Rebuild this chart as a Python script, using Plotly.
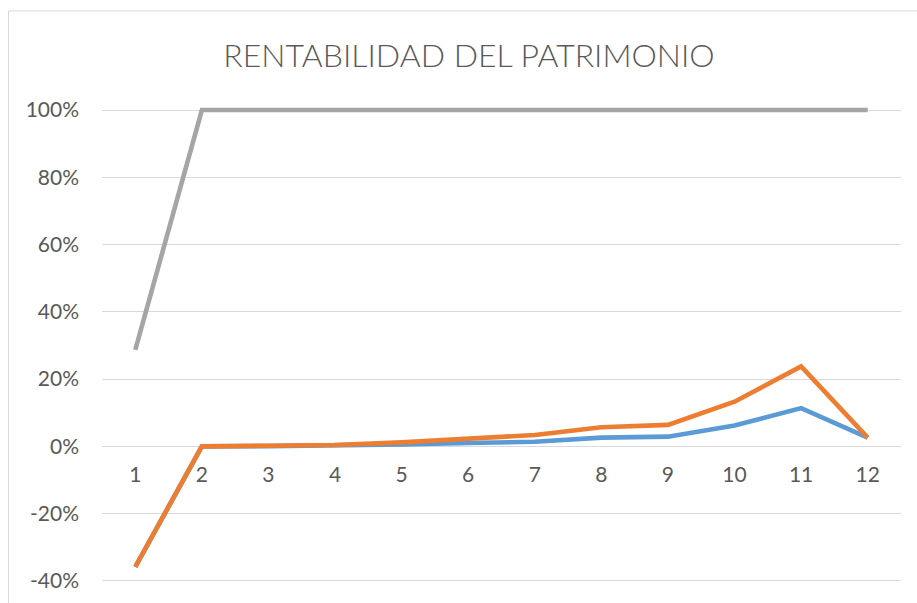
import plotly.graph_objects as go

# Periods on the category axis
periods = [str(i) for i in range(1, 13)]

# Return on equity series (fractions)
serie_azul = [-0.358, 0.0, 0.001, 0.002, 0.006, 0.010, 0.014, 0.026, 0.029, 0.062, 0.114, 0.026]
serie_naranja = [-0.358, 0.0, 0.002, 0.004, 0.012, 0.022, 0.034, 0.057, 0.064, 0.133, 0.238, 0.026]
serie_gris = [0.287, 1.0, 1.0, 1.0, 1.0, 1.0, 1.0, 1.0, 1.0, 1.0, 1.0, 1.0]

# Value-axis ticks and their labels
y_ticks = [-0.4, -0.2, 0.0, 0.2, 0.4, 0.6, 0.8, 1.0]
y_tick_labels = ["-40%", "-20%", "0%", "20%", "40%", "60%", "80%", "100%"]

W, H = 917, 603
Y_MIN, Y_MAX = -0.4, 1.0
PAD = 0.012  # small headroom so the 100% line is not clipped

# pixel rows of the Y_MAX / Y_MIN gridlines and the plot's left/right edges
TOP_PX, BOT_PX = 110.5, 581.0
LEFT_PX, RIGHT_PX = 102, 901
px_per_unit = (BOT_PX - TOP_PX) / (Y_MAX - Y_MIN)
ML, MR = LEFT_PX, W - RIGHT_PX
MT = TOP_PX - PAD * px_per_unit
MB = H - (BOT_PX + PAD * px_per_unit)

FONT = "Lato"
TXT = "#595959"
GRID = "#d9d9d9"

fig = go.Figure()
for vals, color, name in [
    (serie_azul, "#5B9BD5", "Serie 1"),
    (serie_naranja, "#ED7D31", "Serie 2"),
    (serie_gris, "#A5A5A5", "Serie 3"),
]:
    fig.add_trace(go.Scatter(
        x=periods, y=vals, mode="lines", name=name,
        line=dict(color=color, width=4.6),
        hoverinfo="skip",
    ))

plot_w = W - ML - MR
plot_h = H - MT - MB


def px_to_paper_x(px):
    return (px - ML) / plot_w


def px_to_paper_y(py):
    return (H - MB - py) / plot_h


# Chart-area border (left and top edges visible)
fig.add_shape(
    type="rect", xref="paper", yref="paper",
    x0=px_to_paper_x(8.5), x1=px_to_paper_x(930),
    y0=px_to_paper_y(620), y1=px_to_paper_y(11.5),
    line=dict(color=GRID, width=1), fillcolor="rgba(0,0,0,0)", layer="below",
)

fig.update_layout(
    width=W, height=H,
    margin=dict(l=ML, r=MR, t=MT, b=MB, pad=0),
    paper_bgcolor="white", plot_bgcolor="white",
    showlegend=False,
    title=dict(
        text="RENTABILIDAD DEL PATRIMONIO",
        font=dict(family=FONT, size=32, color=TXT, weight=300),
        x=469 / W, xanchor="center", xref="container",
        y=1 - 56 / H, yanchor="middle", yref="container",
    ),
    xaxis=dict(
        type="category", range=[-0.5, 11.5],
        anchor="free", position=px_to_paper_y(BOT_PX - (0 - Y_MIN) * px_per_unit),
        showgrid=False, showline=False, zeroline=False, ticks="",
        ticklabelstandoff=14,
        tickfont=dict(family=FONT, size=21, color=TXT),
    ),
    yaxis=dict(
        range=[Y_MIN - PAD, Y_MAX + PAD],
        tickmode="array", tickvals=y_ticks, ticktext=y_tick_labels,
        showgrid=True, gridcolor=GRID, gridwidth=1,
        zeroline=True, zerolinecolor=GRID, zerolinewidth=1,
        showline=False, ticks="", ticklabelstandoff=22,
        tickfont=dict(family=FONT, size=21, color=TXT),
    ),
)

fig.write_html("out.html")
